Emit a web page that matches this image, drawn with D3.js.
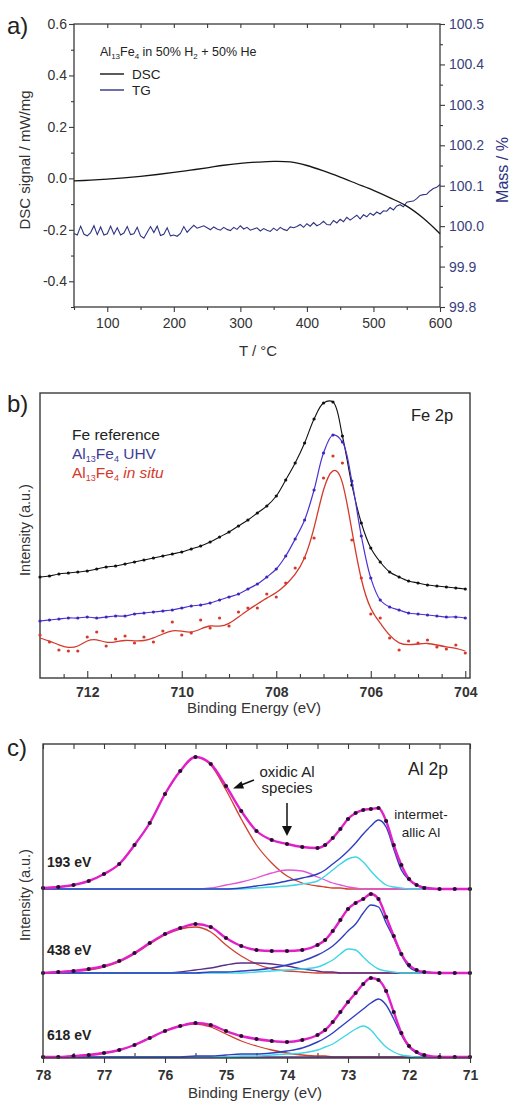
<!DOCTYPE html>
<html><head><meta charset="utf-8">
<script src="https://cdn.jsdelivr.net/npm/d3@7"></script>
<style>
body{margin:0;background:#fff;}
svg{display:block;font-family:"Liberation Sans",Arial,sans-serif;}
</style></head><body>
<svg id="chart" width="511" height="1104"></svg>
<script>
// ================= DATA =================
// Panel a: DSC / TG
const dscTemps  = [50,75,100,125,150,175,200,225,250,275,300,325,350,375,400,425,450,475,500,525,550,575,600];
const dscSignal = [-0.010,-0.007,-0.003,0.002,0.008,0.015,0.023,0.032,0.041,0.051,0.058,0.063,0.066,0.064,0.050,0.029,0.005,-0.021,-0.047,-0.076,-0.108,-0.155,-0.215];
const tgTemps = d3.range(50, 601, 5); // sampling grid, 5 °C
const tgMass = [
 99.982, 99.978, 100.000, 99.980, 99.976, 99.984, 100.001, 99.979, 99.998, 99.978,
 99.981, 100.000, 99.980, 99.996, 99.978, 99.983, 99.999, 99.979, 99.981, 99.997,
 99.976, 99.970, 99.985, 99.999, 99.984, 100.000, 99.977, 99.980, 99.996, 99.976,
 99.978, 99.975, 99.982, 99.999, 99.985, 99.994, 100.002, 99.995, 99.998, 100.001,
 99.996, 99.991, 99.998, 99.993, 99.990, 99.997, 99.992, 99.989, 99.997, 99.992,
 100.001, 99.993, 99.997, 99.990, 99.993, 99.996, 99.988, 99.994, 99.990, 99.987,
 99.995, 99.989, 99.997, 99.992, 99.989, 99.998, 99.996, 99.999, 100.004, 99.997,
 100.006, 100.000, 100.009, 100.001, 100.005, 100.012, 100.004, 100.003, 100.014, 100.008,
 100.017, 100.011, 100.022, 100.015, 100.021, 100.027, 100.018, 100.028, 100.023, 100.032,
 100.027, 100.035, 100.030, 100.038, 100.037, 100.046, 100.040, 100.050, 100.053, 100.048,
 100.059, 100.061, 100.062, 100.068, 100.076, 100.078, 100.079, 100.087, 100.093, 100.096,
 100.103];
const aXMajor = [100,200,300,400,500,600];
const aXMinor = [50,150,250,350,450,550];
const aTopTicks = [100,150,200,250,300,350,400,450,500,550];
const dscMajor = [-0.4,-0.2,0.0,0.2,0.4,0.6];
const dscMinor = [-0.5,-0.3,-0.1,0.1,0.3,0.5];
const massMajor = [99.8,99.9,100.0,100.1,100.2,100.3,100.4,100.5];
const massMinor = [99.85,99.95,100.05,100.15,100.25,100.35,100.45];

// Panel b: Fe 2p (energy grid 713 -> 704 eV, 0.2 eV)
const feEnergy = d3.range(0, 46).map(i => +(713 - 0.2 * i).toFixed(1));
const feRef = [101,102,104,105,106,107,109,111,112,114,116,118,120,122,124,126,129,132,136,141,146,152,158,165,172,182,198,215,235,259,275,276,242,193,155,130,116,106,101,97,95,93,92,91,90,89];
const feUHV = [57,58,59,60,60,61,60,61,62,62,64,65,66,67,68,70,72,73,75,78,81,84,89,94,101,109,122,139,158,188,225,243,236,197,142,100,78,71,68,65,64,63,62,61,61,60];
const feInSituFit = [40,37,33,30,31,38,39,35,36,38,37,37,40,44,48,47,45,49,53,51,54,61,68,74,80,85,93,103,118,148,192,212,203,147,95,67,55,42,34,33,34,35,33,31,30,27];
const feInSituData = [43,36,28,27,27,41,46,32,39,42,35,41,36,47,56,43,45,58,50,60,52,66,70,70,84,81,95,110,120,140,200,222,215,138,100,64,60,40,28,37,35,38,31,29,33,25];
const bMajor = [712,710,708,706,704];
const bMinor = [712.5,711.5,711,710.5,709.5,709,708.5,707.5,707,706.5,705.5,705,704.5];

// Panel c: Al 2p
const alEnergy = [78,77.75,77.5,77.25,77,76.75,76.5,76.25,76,75.75,75.5,75.25,75,74.75,74.5,74.25,74,73.75,73.5,73.375,73.25,73.125,73,72.875,72.75,72.625,72.5,72.375,72.25,72.125,72,71.875,71.75,71.5,71.25,71];
const photonLabels = ["193 eV","438 eV","618 eV"];
const stackOffsets = [169, 85, 1];
const al193Env   = [1,2,4,8,15,25,44,66,95,118,132,125,103,78,58,49,45,42,41,44,51,60,70,76,79,80,81,68,44,24,10,4,1,0,0,0];
const al193Ox    = [1,2,4,8,15,25,44,66,95,118,132,124,99,70,44,26,13,6,3,2,1,1,0,0,0,0,0,0,0,0,0,0,0,0,0,0];
const al193Ox2   = [0,0,0,0,0,0,0,0,0,0,0,1,4,7,11,16,19,18,12,9,6,4,2,1,0,0,0,0,0,0,0,0,0,0,0,0];
const al193Met32 = [0,0,0,0,0,0,0,0,0,0,0,0,0,1,3,5,8,11,15,19,25,31,38,46,55,63,69,62,40,19,9,4,2,0,0,0];
const al193Met12 = [0,0,0,0,0,0,0,0,0,0,0,0,0,0,1,2,3,5,8,13,19,25,30,32,27,18,10,4,2,1,0,0,0,0,0,0];
const al438Env   = [0,1,2,4,7,12,20,30,39,45,49,46,35,27,23,22,22,23,28,33,42,53,64,70,74,79,74,56,37,19,8,3,1,0,0,0];
const al438Ox    = [0,1,2,3,6,11,19,29,38,44,46,41,28,17,9,4,2,1,0,0,0,0,0,0,0,0,0,0,0,0,0,0,0,0,0,0];
const al438Ox2   = [0,0,0,0,0,0,0,0,0,1,3,5,8,10,10,9,7,4,2,1,1,0,0,0,0,0,0,0,0,0,0,0,0,0,0,0];
const al438Met32 = [0,0,0,0,0,0,0,0,0,0,0,1,1,2,3,5,8,12,18,22,27,34,42,49,60,68,66,50,35,18,6,2,1,0,0,0];
const al438Met12 = [0,0,0,0,0,0,0,0,0,0,0,0,0,0,1,2,3,4,6,9,13,19,24,23,16,9,4,2,1,0,0,0,0,0,0,0];
const al618Env   = [0,0,1,2,4,7,12,19,26,31,34,32,26,21,18,16,15,17,22,27,35,45,55,64,73,79,77,66,45,24,11,5,2,0,0,0];
const al618Ox    = [0,0,1,2,4,7,12,19,26,31,33,30,23,16,11,7,4,2,1,1,0,0,0,0,0,0,0,0,0,0,0,0,0,0,0,0];
const al618Ox2   = [0,0,0,0,0,0,0,0,0,0,0,0,0,0,0,0,0,0,0,0,0,0,0,0,0,0,0,0,0,0,0,0,0,0,0,0];
const al618Met32 = [0,0,0,0,0,0,0,0,0,0,1,1,2,3,3,4,6,9,15,19,24,30,36,42,48,54,58,52,38,22,10,4,1,0,0,0];
const al618Met12 = [0,0,0,0,0,0,0,0,0,0,0,0,0,1,1,2,3,4,7,10,13,18,23,28,31,27,18,10,5,2,1,0,0,0,0,0];
const cMajor = [78,77,76,75,74,73,72,71];
const cMinor = [77.5,76.5,75.5,74.5,73.5,72.5,71.5];

// ================= DRAW =================
const svg = d3.select("#chart");
const FONT = "'Liberation Sans', Arial, sans-serif";
const AXC = "#3a3a3a";

function fixAxis(g, color, size, weight) {
  g.select("path.domain").remove();
  g.attr("font-family", FONT).attr("font-size", size);
  g.selectAll("line").attr("stroke", AXC).attr("stroke-width", 1.1);
  g.selectAll("text").attr("fill", color).attr("font-weight", weight || "normal");
}
function rich(g, x, y, parts, attrs) {
  const t = g.append("text").attr("x", x).attr("y", y).attr("font-family", FONT);
  Object.entries(attrs || {}).forEach(([k, v]) => t.attr(k, v));
  let shifted = 0;
  parts.forEach(p => {
    const ts = t.append("tspan").text(p.t);
    const want = p.sub ? 3 : 0;
    if (want !== shifted) { ts.attr("dy", want - shifted); shifted = want; }
    if (p.sub) ts.attr("font-size", p.sub);
    if (p.it) ts.attr("font-style", "italic");
  });
  return t;
}
function frame(g, xs, ys, w) {
  const [x0, x1] = xs.range(); const r = ys.range();
  g.append("rect").attr("x", Math.min(x0, x1)).attr("y", Math.min(r[0], r[1]))
    .attr("width", Math.abs(x1 - x0)).attr("height", Math.abs(r[0] - r[1]))
    .attr("fill", "none").attr("stroke", AXC).attr("stroke-width", w || 1.3);
}
function series(g, xs, ys, en, vals, color, curve, width) {
  g.append("path").datum(en.map((e, i) => [e, vals[i]]))
    .attr("fill", "none").attr("stroke", color).attr("stroke-width", width)
    .attr("d", d3.line().x(d => xs(d[0])).y(d => ys(d[1])).curve(curve));
}
function dots(g, xs, ys, en, vals, color, r) {
  g.append("g").selectAll("circle").data(en.map((e, i) => [e, vals[i]])).join("circle")
    .attr("cx", d => xs(d[0])).attr("cy", d => ys(d[1])).attr("r", r).attr("fill", color);
}

// ---------- Panel a ----------
const aX = d3.scaleLinear().domain([50, 600]).range([74, 440]);
const aYL = d3.scaleLinear().domain([-0.5, 0.6]).range([307, 24]);
const aYR = d3.scaleLinear().domain([99.8, 100.5]).range([307, 24]);
const A = svg.append("g");
const aL = aX.range()[0], aR = aX.range()[1], aT = aYL.range()[1], aB = aYL.range()[0];

fixAxis(A.append("g").attr("transform", `translate(${aL},0)`)
  .call(d3.axisLeft(aYL).tickValues(dscMajor).tickSize(5).tickSizeOuter(0).tickPadding(2).tickFormat(d => d.toFixed(1))), "#333", 14);
fixAxis(A.append("g").attr("transform", `translate(${aL},0)`)
  .call(d3.axisLeft(aYL).tickValues(dscMinor).tickSize(3).tickSizeOuter(0).tickFormat("")), "#333", 14);
fixAxis(A.append("g").attr("transform", `translate(0,${aB})`)
  .call(d3.axisBottom(aX).tickValues(aXMajor).tickSize(5).tickSizeOuter(0).tickPadding(6).tickFormat(d3.format("d"))), "#333", 14);
fixAxis(A.append("g").attr("transform", `translate(0,${aB})`)
  .call(d3.axisBottom(aX).tickValues(aXMinor).tickSize(3).tickSizeOuter(0).tickFormat("")), "#333", 14);
fixAxis(A.append("g").attr("transform", `translate(0,${aT})`)
  .call(d3.axisBottom(aX).tickValues(aTopTicks).tickSize(4).tickSizeOuter(0).tickFormat("")), "#333", 14);
fixAxis(A.append("g").attr("transform", `translate(${aR},0)`)
  .call(d3.axisRight(aYR).tickValues(massMajor).tickSize(5).tickSizeOuter(0).tickPadding(4).tickFormat(d => d.toFixed(1))), "#3a3f7e", 14);
fixAxis(A.append("g").attr("transform", `translate(${aR},0)`)
  .call(d3.axisRight(aYR).tickValues(massMinor).tickSize(3).tickSizeOuter(0).tickFormat("")), "#3a3f7e", 14);
frame(A, aX, aYL, 1.3);

A.append("path").datum(tgTemps.map((t, i) => [t, tgMass[i]]))
  .attr("fill", "none").attr("stroke", "#2f3384").attr("stroke-width", 1.1)
  .attr("d", d3.line().x(d => aX(d[0])).y(d => aYR(d[1])));
A.append("path").datum(dscTemps.map((t, i) => [t, dscSignal[i]]))
  .attr("fill", "none").attr("stroke", "#151515").attr("stroke-width", 1.3)
  .attr("d", d3.line().x(d => aX(d[0])).y(d => aYL(d[1])).curve(d3.curveCatmullRom));

A.append("text").attr("x", 7).attr("y", 34).attr("font-size", 24).attr("fill", "#222").text("a)");
rich(A, 100, 56, [{t:"Al"},{t:"13",sub:8},{t:"Fe"},{t:"4",sub:8},{t:" in 50% H"},{t:"2",sub:8},{t:" + 50% He"}], {"font-size": 12.5, fill: "#222"});
A.append("line").attr("x1", 100).attr("x2", 124).attr("y1", 74).attr("y2", 74).attr("stroke", "#151515").attr("stroke-width", 1.4);
A.append("text").attr("x", 132).attr("y", 79).attr("font-size", 13.5).attr("fill", "#222").text("DSC");
A.append("line").attr("x1", 100).attr("x2", 124).attr("y1", 90).attr("y2", 90).attr("stroke", "#2f3384").attr("stroke-width", 1.4);
A.append("text").attr("x", 132).attr("y", 95).attr("font-size", 13.5).attr("fill", "#222").text("TG");
A.append("text").attr("transform", "translate(30,160) rotate(-90)").attr("text-anchor", "middle")
  .attr("font-size", 15).attr("fill", "#333").text("DSC signal / mW/mg");
A.append("text").attr("transform", "translate(508,170) rotate(-90)").attr("text-anchor", "middle")
  .attr("font-size", 16).attr("fill", "#2f3384").text("Mass / %");
A.append("text").attr("x", 258).attr("y", 356).attr("text-anchor", "middle").attr("font-size", 15).attr("fill", "#333").text("T / °C");

// ---------- Panel b ----------
const bX = d3.scaleLinear().domain([713, 703.9]).range([40, 470]);
const bY = d3.scaleLinear().domain([0, 285]).range([678, 393]);
const B = svg.append("g");
const bB = bY.range()[0];
fixAxis(B.append("g").attr("transform", `translate(0,${bB})`)
  .call(d3.axisTop(bX).tickValues(bMajor).tickSize(7).tickSizeOuter(0).tickFormat("")), "#333", 14);
fixAxis(B.append("g").attr("transform", `translate(0,${bB})`)
  .call(d3.axisTop(bX).tickValues(bMinor).tickSize(4).tickSizeOuter(0).tickFormat("")), "#333", 14);
fixAxis(B.append("g").attr("transform", `translate(0,${bB})`)
  .call(d3.axisBottom(bX).tickValues(bMajor).tickSize(0).tickPadding(9).tickFormat(d3.format("d"))), "#333", 14, "bold");
frame(B, bX, bY, 1.4);

series(B, bX, bY, feEnergy, feRef, "#111", d3.curveCatmullRom, 1.1);
dots(B, bX, bY, feEnergy, feRef, "#111", 1.6);
series(B, bX, bY, feEnergy, feUHV, "#4b31d6", d3.curveCatmullRom, 1.2);
dots(B, bX, bY, feEnergy, feUHV, "#3b28b8", 1.6);
series(B, bX, bY, feEnergy, feInSituFit, "#d5392b", d3.curveBasis, 1.3);
dots(B, bX, bY, feEnergy, feInSituData, "#d5392b", 1.6);

B.append("text").attr("x", 7).attr("y", 412).attr("font-size", 24).attr("fill", "#222").text("b)");
B.append("text").attr("x", 411).attr("y", 421).attr("font-size", 16.5).attr("fill", "#222").text("Fe 2p");
B.append("text").attr("x", 72).attr("y", 439.5).attr("font-size", 15.5).attr("fill", "#222").text("Fe reference");
rich(B, 72, 458.5, [{t:"Al"},{t:"13",sub:9},{t:"Fe"},{t:"4",sub:9},{t:" UHV"}], {"font-size": 15.5, fill: "#3d3d95"});
rich(B, 72, 477.5, [{t:"Al"},{t:"13",sub:9},{t:"Fe"},{t:"4",sub:9},{t:" "},{t:"in situ",it:true}], {"font-size": 15.5, fill: "#d5392b"});
B.append("text").attr("transform", "translate(30,530) rotate(-90)").attr("text-anchor", "middle")
  .attr("font-size", 14.5).attr("fill", "#333").text("Intensity (a.u.)");
B.append("text").attr("x", 254).attr("y", 713).attr("text-anchor", "middle").attr("font-size", 15).attr("fill", "#333").text("Binding Energy (eV)");

// ---------- Panel c ----------
const cX = d3.scaleLinear().domain([78, 71]).range([43, 470]);
const cY = d3.scaleLinear().domain([0, 314]).range([1058, 744]);
const C = svg.append("g");
const cB = cY.range()[0], cT = cY.range()[1];
fixAxis(C.append("g").attr("transform", `translate(0,${cB})`)
  .call(d3.axisBottom(cX).tickValues(cMajor).tickSize(5).tickSizeOuter(0).tickPadding(7).tickFormat(d3.format("d"))), "#333", 14, "bold");
fixAxis(C.append("g").attr("transform", `translate(0,${cB})`)
  .call(d3.axisTop(cX).tickValues(cMinor).tickSize(5).tickSizeOuter(0).tickFormat("")), "#333", 14);
fixAxis(C.append("g").attr("transform", `translate(0,${cT})`)
  .call(d3.axisBottom(cX).tickValues(cMajor.concat(cMinor)).tickSize(5).tickSizeOuter(0).tickFormat("")), "#333", 14);

const spectra = [
  {env: al193Env, ox: al193Ox, ox2: al193Ox2, m32: al193Met32, m12: al193Met12, ox2c: "#e055d8"},
  {env: al438Env, ox: al438Ox, ox2: al438Ox2, m32: al438Met32, m12: al438Met12, ox2c: "#5b2e8c"},
  {env: al618Env, ox: al618Ox, ox2: al618Ox2, m32: al618Met32, m12: al618Met12, ox2c: "#5b2e8c"}
];
const labelY = [867, 955, 1040];
spectra.forEach((s, k) => {
  const off = stackOffsets[k];
  const sh = arr => arr.map(v => v + off);
  series(C, cX, cY, alEnergy, sh(s.ox), "#d2402c", d3.curveMonotoneX, 1.3);
  series(C, cX, cY, alEnergy, sh(s.ox2), s.ox2c, d3.curveMonotoneX, 1.3);
  series(C, cX, cY, alEnergy, sh(s.m12), "#3fd6e6", d3.curveMonotoneX, 1.4);
  series(C, cX, cY, alEnergy, sh(s.m32), "#2f3fbf", d3.curveMonotoneX, 1.4);
  series(C, cX, cY, alEnergy, sh(s.env), "#e021c8", d3.curveMonotoneX, 2.4);
  dots(C, cX, cY, alEnergy, sh(s.env), "#2b0b30", 2.1);
  C.append("text").attr("x", 47).attr("y", labelY[k]).attr("font-size", 14).attr("font-weight", "bold")
    .attr("fill", "#222").text(photonLabels[k]);
});
frame(C, cX, cY, 1.4);

C.append("text").attr("x", 7).attr("y", 756).attr("font-size", 24).attr("fill", "#222").text("c)");
C.append("text").attr("x", 408).attr("y", 775).attr("font-size", 17.5).attr("fill", "#222").text("Al 2p");
C.append("text").attr("x", 287).attr("y", 777).attr("text-anchor", "middle").attr("font-size", 15).attr("fill", "#222").text("oxidic Al");
C.append("text").attr("x", 287).attr("y", 793).attr("text-anchor", "middle").attr("font-size", 15).attr("fill", "#222").text("species");
C.append("text").attr("x", 421).attr("y", 819).attr("text-anchor", "middle").attr("font-size", 13.5).attr("fill", "#222").text("intermet-");
C.append("text").attr("x", 421).attr("y", 837).attr("text-anchor", "middle").attr("font-size", 13.5).attr("fill", "#222").text("allic Al");
// arrows
C.append("line").attr("x1", 287).attr("y1", 803).attr("x2", 287).attr("y2", 828).attr("stroke", "#111").attr("stroke-width", 1.5);
C.append("path").attr("d", "M282,826 L292,826 L287,836 Z").attr("fill", "#111");
C.append("line").attr("x1", 254).attr("y1", 780).attr("x2", 240).attr("y2", 785.5).attr("stroke", "#111").attr("stroke-width", 1.5);
C.append("path").attr("d", "M233,788.5 L241.5,781.2 L244,788.5 Z").attr("fill", "#111");
C.append("text").attr("transform", "translate(30,895) rotate(-90)").attr("text-anchor", "middle")
  .attr("font-size", 14.5).attr("fill", "#333").text("Intensity (a.u.)");
C.append("text").attr("x", 255).attr("y", 1098).attr("text-anchor", "middle").attr("font-size", 15).attr("fill", "#333").text("Binding Energy (eV)");
</script></body></html>
